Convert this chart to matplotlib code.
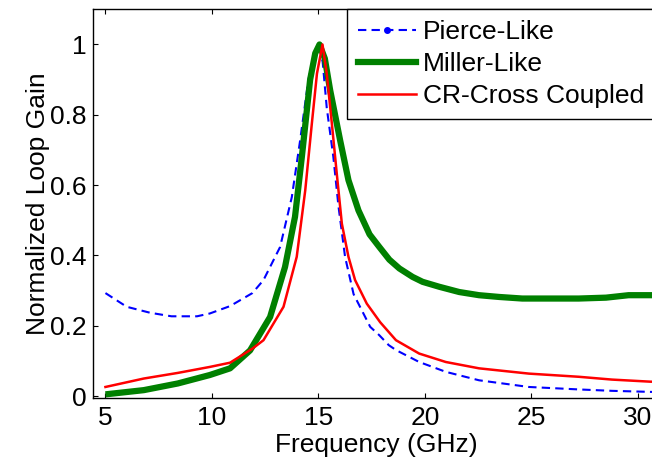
import matplotlib
matplotlib.use("Agg")
import matplotlib.pyplot as plt
from matplotlib.lines import Line2D

# Pierce-Like (blue dashed)
x_pierce = [5.0, 6.0, 7.1, 8.1, 9.3, 9.9, 10.85, 11.9, 12.42, 13.2, 13.75, 14.14, 14.53, 14.8, 15.0,
            15.2, 15.39, 15.7, 15.94, 16.25, 16.65, 17.43, 17.86, 18.3, 18.64, 19.73, 20.98, 22.54,
            24.88, 27.22, 28.78, 30.6, 31.0]
y_pierce = [0.293, 0.254, 0.237, 0.227, 0.227, 0.235, 0.256, 0.293, 0.33, 0.424, 0.566, 0.727, 0.90, 0.975, 1.0,
            0.95, 0.82, 0.68, 0.54, 0.396, 0.29, 0.197, 0.173, 0.145, 0.131, 0.097, 0.069, 0.045,
            0.026, 0.019, 0.015, 0.012, 0.012]

# Miller-Like (green thick)
x_miller = [5.0, 6.8, 8.4, 9.9, 10.85, 11.79, 12.73, 13.43, 13.9, 14.22, 14.61, 14.85, 15.05,
            15.3, 15.55, 16.02, 16.41, 16.88, 17.4, 17.86, 18.33, 18.8, 19.42, 19.89, 20.67,
            21.61, 22.54, 23.48, 24.57, 27.22, 28.5, 29.56, 31.0]
y_miller = [0.005, 0.017, 0.036, 0.06, 0.079, 0.13, 0.225, 0.367, 0.51, 0.68, 0.90, 0.975, 1.0,
            0.96, 0.87, 0.727, 0.614, 0.528, 0.46, 0.424, 0.388, 0.363, 0.339, 0.325, 0.311,
            0.296, 0.287, 0.282, 0.2775, 0.2775, 0.28, 0.287, 0.287]

# CR-Cross Coupled (red)
x_cr = [5.0, 6.8, 8.4, 9.9, 10.85, 11.9, 12.42, 13.36, 13.98, 14.38, 14.69, 14.93, 15.19,
        15.39, 15.63, 15.86, 16.1, 16.41, 16.72, 17.27, 17.9, 18.64, 19.73, 20.98, 22.54,
        24.88, 27.22, 28.78, 30.6, 31.0]
y_cr = [0.026, 0.05, 0.066, 0.083, 0.095, 0.135, 0.159, 0.254, 0.396, 0.585, 0.775, 0.917, 1.0,
        0.917, 0.775, 0.633, 0.49, 0.396, 0.33, 0.263, 0.21, 0.159, 0.121, 0.097, 0.079,
        0.064, 0.055, 0.047, 0.041, 0.041]

xticks = [5, 10, 15, 20, 25, 30]
yticks = [0, 0.2, 0.4, 0.6, 0.8, 1]
ytick_labels = ["0", "0.2", "0.4", "0.6", "0.8", "1"]

plt.rcParams["font.family"] = ["Liberation Sans", "DejaVu Sans"]
plt.rcParams["font.size"] = 19

fig = plt.figure(figsize=(6.52, 4.68), dpi=100)
ax = fig.add_axes([0.1431, 0.1506, 0.868, 0.8295])

ax.plot(x_pierce, y_pierce, color="blue", lw=1.5, ls=(0, (4, 2.5)))
ax.plot(x_miller, y_miller, color="green", lw=4.5, solid_capstyle="butt")
ax.plot(x_cr, y_cr, color="red", lw=1.8)

ax.set_xlim(4.43, 31)
ax.set_ylim(-0.004, 1.1)
ax.set_xticks(xticks)
ax.set_yticks(yticks)
ax.set_yticklabels(ytick_labels)
ax.tick_params(direction="in", length=3.5, width=0.8, top=True, right=True, pad=6)
ax.tick_params(axis="y", pad=5)
for s in ax.spines.values():
    s.set_linewidth(1.0)

ax.set_xlabel("Frequency (GHz)", labelpad=2)
ax.set_ylabel("Normalized Loop Gain", labelpad=0)

handles = [
    Line2D([], [], color="blue", lw=1.5, ls=(0, (4, 2.5)), marker=".", markersize=8),
    Line2D([], [], color="green", lw=4.5),
    Line2D([], [], color="red", lw=1.8),
]
labels = ["Pierce-Like", "Miller-Like", "CR-Cross Coupled"]
leg = fig.legend(handles, labels, loc="upper left", bbox_to_anchor=(347 / 652, 1 - 9 / 468),
                 frameon=True, fancybox=False, edgecolor="black", framealpha=1,
                 handlelength=2.2, handletextpad=0.27, labelspacing=0.3, borderpad=0.42,
                 borderaxespad=0)
leg.get_frame().set_linewidth(1.0)

fig.savefig("out.png", dpi=100)
